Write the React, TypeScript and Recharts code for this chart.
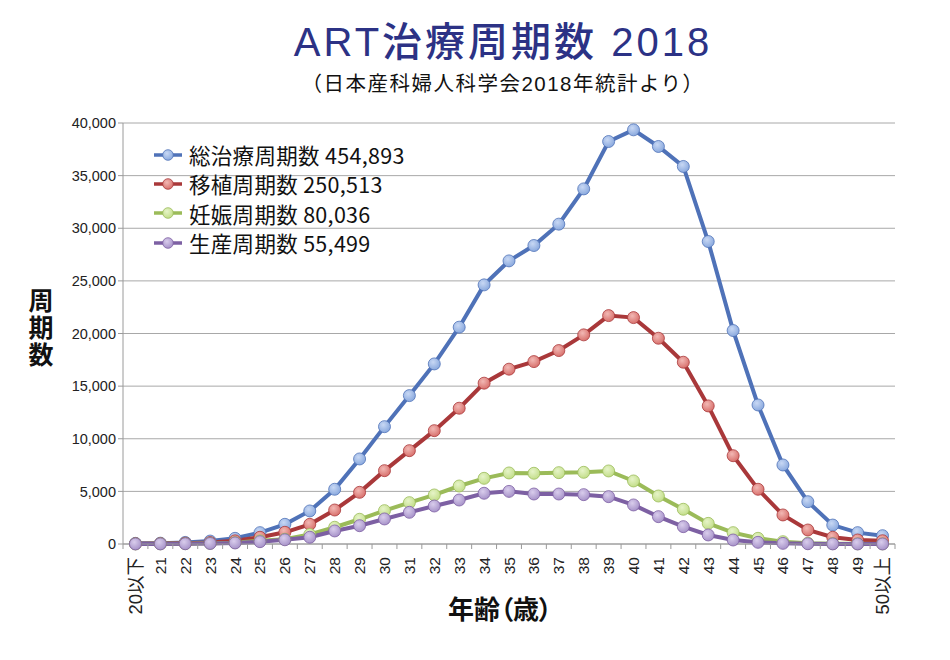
import React from 'react';
import { LineChart, Line, XAxis, YAxis, CartesianGrid } from 'recharts';

// 年齢区分
const ages = [
  '20以下', '21', '22', '23', '24', '25', '26', '27', '28', '29', '30',
  '31', '32', '33', '34', '35', '36', '37', '38', '39', '40',
  '41', '42', '43', '44', '45', '46', '47', '48', '49', '50以上',
];

// 総治療周期数
const totalCycles = [
  60, 80, 150, 280, 540, 1080, 1870, 3140, 5200, 8080, 11150,
  14100, 17110, 20600, 24620, 26900, 28360, 30390, 33740, 38240, 39350,
  37770, 35870, 28740, 20280, 13210, 7510, 4020, 1800, 1080, 790,
];

// 移植周期数
const transferCycles = [
  30, 40, 80, 140, 300, 640, 1110, 1870, 3230, 4910, 6970,
  8870, 10770, 12900, 15280, 16610, 17330, 18380, 19870, 21700, 21510,
  19550, 17270, 13120, 8390, 5200, 2760, 1330, 640, 380, 310,
];

// 妊娠周期数
const pregnancyCycles = [
  10, 15, 30, 60, 130, 300, 450, 900, 1590, 2350, 3170,
  3930, 4660, 5510, 6240, 6750, 6720, 6780, 6810, 6940, 5990,
  4560, 3300, 1960, 1080, 540, 220, 80, 30, 15, 10,
];

// 生産周期数
const birthCycles = [
  5, 10, 25, 50, 100, 220, 400, 640, 1240, 1740, 2380,
  3010, 3610, 4180, 4820, 5000, 4750, 4750, 4690, 4500, 3710,
  2600, 1650, 860, 380, 160, 60, 25, 10, 5, 3,
];

const seriesLabels = ['総治療周期数', '移植周期数', '妊娠周期数', '生産周期数'];
const seriesTotals = ['454,893', '250,513', '80,036', '55,499'];

const yTicks = [0, 5000, 10000, 15000, 20000, 25000, 30000, 35000, 40000];

const data = ages.map((age, i) => ({
  age,
  total: totalCycles[i],
  transfer: transferCycles[i],
  pregnancy: pregnancyCycles[i],
  birth: birthCycles[i],
}));

const SERIES = [
  { key: 'total', line: '#4f72b8', dot: '#8aa9de', light: '#c8d8f4', id: 'gBlue' },
  { key: 'transfer', line: '#a9383a', dot: '#d8716d', light: '#f2b8b4', id: 'gRed' },
  { key: 'pregnancy', line: '#9bbb59', dot: '#c3de8a', light: '#e6f4c8', id: 'gGreen' },
  { key: 'birth', line: '#7d60a3', dot: '#a793c9', light: '#d9cdec', id: 'gPurple' },
];

const PLOT_LEFT = 123;
const PLOT_RIGHT = 895;
const BAND = (PLOT_RIGHT - PLOT_LEFT) / ages.length;

const SANS = '"Liberation Sans", Arial, "Noto Sans CJK JP", sans-serif';
const CJK = '"Noto Sans CJK JP", "Noto Sans", sans-serif';

function AgeTick(props: any) {
  const { x, y, payload, index } = props;
  const idx = index ?? payload.index;
  const axisY = y - 7;
  const hasKanji = /[^0-9]/.test(String(payload.value));
  return (
    <g>
      <line x1={x - BAND / 2} x2={x - BAND / 2} y1={axisY} y2={axisY + 5} stroke="#9a9a9a" />
      {idx === ages.length - 1 && (
        <line x1={x + BAND / 2} x2={x + BAND / 2} y1={axisY} y2={axisY + 5} stroke="#9a9a9a" />
      )}
      <text
        transform={`translate(${x},${y + 6}) rotate(-90)`}
        textAnchor="end"
        dominantBaseline="central"
        fontSize={hasKanji ? 18.5 : 15.5}
        fontFamily={SANS}
        fill="#222"
      >
        {payload.value}
      </text>
    </g>
  );
}

function ChartLegend() {
  return (
    <div style={{ position: 'absolute', left: 152, top: 140, fontFamily: SANS, fontSize: 22, color: '#111' }}>
      {SERIES.map((s, i) => (
        <div key={s.key} style={{ display: 'flex', alignItems: 'center', height: 29.3 }}>
          <svg width={32} height={14} style={{ marginRight: 5 }}>
            <line x1={2} x2={30} y1={7} y2={7} stroke={s.line} strokeWidth={3.5} />
            <circle cx={16} cy={7} r={5.3} fill={`url(#${s.id})`} stroke={s.line} strokeWidth={0.8} />
          </svg>
          <span style={{ lineHeight: '29px', fontFamily: CJK, fontSize: 21.5, letterSpacing: 0.3 }}>
            {seriesLabels[i]} {seriesTotals[i]}
          </span>
        </div>
      ))}
    </div>
  );
}

export default function App() {
  return (
    <div
      style={{
        position: 'fixed',
        left: 0,
        top: 0,
        width: 950,
        height: 660,
        background: '#fff',
        overflow: 'hidden',
      }}
    >
      <div
        style={{
          position: 'absolute', left: 0, top: 19, width: 1006, textAlign: 'center',
          fontFamily: SANS, fontSize: 40, fontWeight: 500, lineHeight: '46px', color: '#2c3285',
          letterSpacing: 3,
        }}
      >
        ART治療周期数 2018
      </div>
      <div
        style={{
          position: 'absolute', left: 0, top: 72, width: 1006, textAlign: 'center',
          fontFamily: SANS, fontSize: 20.5, lineHeight: '24px', color: '#111',
          letterSpacing: 1.5,
        }}
      >
        （日本産科婦人科学会2018年統計より）
      </div>

      <LineChart
        width={950}
        height={660}
        data={data}
        margin={{ top: 123, right: 950 - PLOT_RIGHT, bottom: 41, left: 43 }}
      >
        <defs>
          {SERIES.map((s) => (
            <radialGradient key={s.id} id={s.id} cx="40%" cy="35%" r="65%">
              <stop offset="0%" stopColor={s.light} />
              <stop offset="100%" stopColor={s.dot} />
            </radialGradient>
          ))}
        </defs>
        <CartesianGrid vertical={false} stroke="#a8a8a8" />
        <XAxis
          dataKey="age"
          scale="band"
          interval={0}
          height={75}
          stroke="#9a9a9a"
          tickLine={false}
          tickSize={5}
          tickMargin={2}
          tick={<AgeTick />}
        />
        <YAxis
          width={80}
          domain={[0, 40000]}
          ticks={yTicks}
          interval={0}
          stroke="#9a9a9a"
          tickSize={5}
          tickMargin={2}
          tickFormatter={(v: number) => v.toLocaleString('en-US')}
          tick={{ fill: '#222', fontSize: 14.5, fontFamily: SANS }}
        />
        {SERIES.map((s) => (
          <Line
            key={s.key}
            type="linear"
            dataKey={s.key}
            stroke={s.line}
            strokeWidth={4}
            dot={{ r: 6, fill: `url(#${s.id})`, stroke: s.line, strokeWidth: 0.8 }}
            activeDot={false}
            isAnimationActive={false}
          />
        ))}
      </LineChart>

      <ChartLegend />

      <div
        style={{
          position: 'absolute', left: 24, top: 288, height: 84,
          writingMode: 'vertical-rl', textOrientation: 'upright',
          fontFamily: CJK, fontSize: 25, fontWeight: 700, lineHeight: '34px', color: '#111',
          letterSpacing: 2,
        }}
      >
        周期数
      </div>
      <div
        style={{
          position: 'absolute', left: 0, top: 593, width: 1000, textAlign: 'center',
          fontFamily: CJK, fontSize: 26, fontWeight: 700, lineHeight: '30px', color: '#111',
          fontFeatureSettings: '"palt"',
        }}
      >
        年齢（歳）
      </div>
    </div>
  );
}
